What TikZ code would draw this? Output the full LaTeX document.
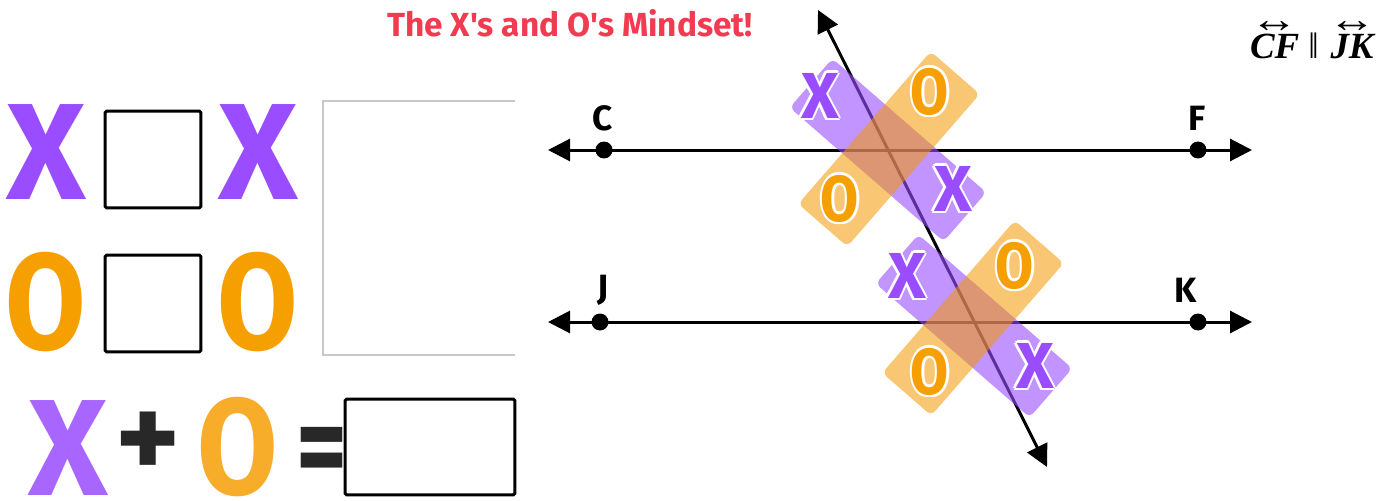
\documentclass[tikz,border=0pt]{standalone}
\usepackage{fontspec}
\usepackage{contour}
\usetikzlibrary{arrows.meta}
\setmainfont{Fira Sans}
\newfontfamily\titlefont{Fira Sans}[Ligatures=TeXOff]
\newfontfamily\givenfont{Liberation Serif}

\definecolor{xpurple}{RGB}{153,77,255}
\definecolor{xpurplelt}{RGB}{168,102,255}
\definecolor{oorange}{RGB}{245,160,0}
\definecolor{oorangelt}{RGB}{247,172,42}
\definecolor{bandorange}{RGB}{244,153,0}
\definecolor{titlered}{RGB}{242,58,80}
\definecolor{framegray}{RGB}{200,200,200}
\definecolor{signgray}{RGB}{40,40,40}
\contourlength{1.4pt}
\contournumber{8}
\newcommand{\lineover}[1]{\shortstack{\resizebox{1.3em}{0.3em}{\normalfont\givenfont ↔}\\[-0.1em]#1}}

\begin{document}
\begin{tikzpicture}[x=0.02cm, y=-0.02cm,
        bigx/.style={text=xpurple, font=\fontsize{78}{78}\selectfont\bfseries, inner sep=0pt},
        bigo/.style={text=oorange, font=\fontsize{78}{78}\selectfont\bfseries, inner sep=0pt},
        blank/.style={draw, line width=0.06cm, rounded corners=1pt, minimum width=1.92cm, minimum height=1.94cm},
        dot/.style={circle, fill=black, inner sep=0pt, minimum size=0.34cm},
        ptname/.style={font=\fontsize{20}{20}\selectfont\bfseries, inner sep=0pt},
        xband/.style={fill=xpurple, fill opacity=0.6, rounded corners=0.12cm, minimum width=4.08cm, minimum height=1.3cm, rotate=-41},
        oband/.style={fill=bandorange, fill opacity=0.55, rounded corners=0.12cm, minimum width=4.04cm, minimum height=1.3cm, rotate=49},
        xmark/.style={text=xpurple, font=\fontsize{37}{37}\selectfont\bfseries, inner sep=0pt},
        omark/.style={text=oorange, font=\fontsize{37}{37}\selectfont\bfseries, inner sep=0pt},
        line/.style={line width=0.06cm, {Triangle[length=0.44cm, width=0.44cm]}-{Triangle[length=0.44cm, width=0.44cm]}}]
    \useasboundingbox (0,0) rectangle (1398,500);

    % Title and given
    \node[text=titlered, font=\fontsize{19}{19}\selectfont\titlefont\bfseries] (title) at (570,23) {The X's and O's Mindset!};
    \node[font=\fontsize{21}{21}\selectfont\givenfont\bfseries\itshape] (parallelpair) at (1313,40) {\lineover{CF} {\normalfont\givenfont ‖} \lineover{JK}};

    % Left side: fill in the blanks
    \node[bigx] (x1) at (46,152) {X};
    \node[blank] (xbox) at (153,159.5) {};
    \node[bigx] (x2) at (258,152) {X};
    \node[bigo] (o1) at (46,302) {\scalebox{0.85}[1]{O}};
    \node[blank] (obox) at (153,303.5) {};
    \node[bigo] (o2) at (258,302) {\scalebox{0.85}[1]{O}};
    \draw[framegray, line width=0.04cm] (515,101) -- (323,101) -- (323,355) -- (515,355);

    \node[bigx, text=xpurplelt] (x3) at (68,448) {X};
    \node[bigx, text=signgray, font=\fontsize{70}{70}\selectfont\bfseries] (plus) at (148,446) {+};
    \node[bigo, text=oorangelt] (o3) at (238,447) {\scalebox{0.85}[1]{O}};
    \node[bigx, text=signgray, font=\fontsize{70}{70}\selectfont\bfseries] (equals) at (322,458) {\scalebox{0.8}[1]{=}};
    \node[blank, minimum width=3.4cm, minimum height=1.92cm] (sumbox) at (430,447) {};

    % Parallel lines and transversal
    \coordinate (cfL) at (548,150);
    \coordinate (cfR) at (1252,150);
    \coordinate (jkL) at (548,322);
    \coordinate (jkR) at (1252,322);
    \coordinate (tTop) at (818,10);
    \coordinate (tBot) at (1047,467);
    \draw[line] (cfL) -- (cfR);
    \draw[line] (jkL) -- (jkR);
    \draw[line] (tTop) -- (tBot);

    \node[dot] (C) at (604,150) {};
    \node[dot] (F) at (1198,150) {};
    \node[dot] (J) at (600,322) {};
    \node[dot] (K) at (1198,322) {};
    \node[ptname] (Cname) at (603,118) {C};
    \node[ptname] (Fname) at (1197,118) {F};
    \node[ptname] (Jname) at (603,290) {J};
    \node[ptname] (Kname) at (1186,290) {K};

    % X and O bands at the two crossings
    \node[xband] (xbandA) at (888,150) {};
    \node[oband] (obandA) at (889,149) {};
    \node[xband] (xbandB) at (974,326) {};
    \node[oband] (obandB) at (973,318) {};

    \node[xmark] (xA1) at (820,97) {\contour{white}{X}};
    \node[xmark] (xA2) at (953,190) {\contour{white}{X}};
    \node[omark] (oA1) at (930,93) {\contour{white}{\scalebox{0.85}[1]{O}}};
    \node[omark] (oA2) at (840,200) {\contour{white}{\scalebox{0.85}[1]{O}}};
    \node[xmark] (xB1) at (907,277) {\contour{white}{X}};
    \node[xmark] (xB2) at (1035,367) {\contour{white}{X}};
    \node[omark] (oB1) at (1015,267) {\contour{white}{\scalebox{0.85}[1]{O}}};
    \node[omark] (oB2) at (930,373) {\contour{white}{\scalebox{0.85}[1]{O}}};
\end{tikzpicture}
\end{document}
